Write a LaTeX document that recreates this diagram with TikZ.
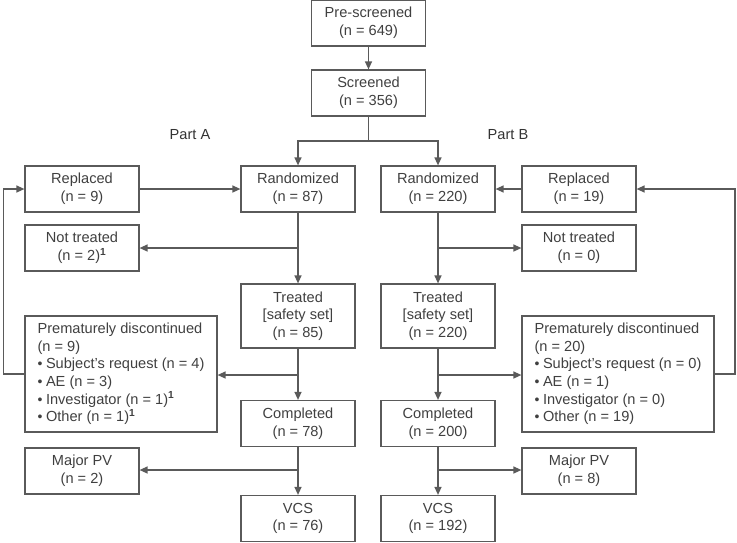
\documentclass[tikz,border=0pt]{standalone}
\usepackage{fontspec}
\setmainfont{Liberation Sans}
\usetikzlibrary{arrows.meta}
\definecolor{ln}{HTML}{5A5A5A}
\definecolor{tx}{HTML}{404040}
\begin{document}
\begin{tikzpicture}[x=1pt,y=1pt,
  box/.style={draw=ln,line width=1.2pt,fill=white,text=tx,minimum width=114pt,minimum height=46pt,
    align=center,inner sep=0pt,font=\fontsize{14.6}{17.6}\selectfont},
  wide/.style={box,minimum width=192pt,minimum height=116pt,align=left},
  conn/.style={draw=ln,line width=1.3pt},
  arr/.style={conn,-{Triangle[length=8pt,width=7pt]}},
  lbl/.style={text=tx!80!black,font=\fontsize{14.6}{17.6}\selectfont}]
\useasboundingbox (0,0) rectangle (737,-542);
\newcommand{\supone}{\textsuperscript{\textbf{1}}}
\newcommand{\bul}{{\fontsize{14}{14}\selectfont\raisebox{0pt}{•}}\hspace{3.5pt}}
\node[box] (pre) at (368.5,-23) {Pre-screened\\(n = 649)};
\node[box] (scr) at (368.5,-93) {Screened\\(n = 356)};
\node[lbl] (pa) at (190,-135) {Part A};
\node[lbl] (pb) at (508,-135) {Part B};
\node[box] (randA) at (298,-189) {Randomized\\(n = 87)};
\node[box] (randB) at (438,-189) {Randomized\\(n = 220)};
\node[box] (repA) at (82,-189) {Replaced\\(n = 9)};
\node[box] (repB) at (579,-189) {Replaced\\(n = 19)};
\node[box] (ntA) at (82,-248) {Not treated\\(n = 2)\supone};
\node[box] (ntB) at (579,-248) {Not treated\\(n = 0)};
\node[box,minimum height=64pt] (trA) at (298,-316) {Treated\\{[safety set]}\\(n = 85)};
\node[box,minimum height=64pt] (trB) at (438,-316) {Treated\\{[safety set]}\\(n = 220)};
\node[wide] (dcA) at (121,-374) {Prematurely discontinued\\(n = 9)\\\bul Subject’s request (n = 4)\\\bul AE (n = 3)\\\bul Investigator (n = 1)\supone\\\bul Other (n = 1)\supone};
\node[wide] (dcB) at (618,-374) {Prematurely discontinued\\(n = 20)\\\bul Subject’s request (n = 0)\\\bul AE (n = 1)\\\bul Investigator (n = 0)\\\bul Other (n = 19)};
\node[box] (coA) at (298,-423.5) {Completed\\(n = 78)};
\node[box] (coB) at (438,-423.5) {Completed\\(n = 200)};
\node[box] (pvA) at (82,-471) {Major PV\\(n = 2)};
\node[box] (pvB) at (579,-471) {Major PV\\(n = 8)};
\node[box] (vcsA) at (298,-518.5) {VCS\\(n = 76)};
\node[box] (vcsB) at (438,-518.5) {VCS\\(n = 192)};
% connectors
\draw[arr] (pre) -- (scr);
\coordinate (br) at (368.5,-141);
\draw[conn] (scr) -- (br);
\draw[arr] (br) -| (randA);
\draw[arr] (br) -| (randB);
\draw[arr] (repA) -- (randA);
\draw[arr] (repB) -- (randB);
\draw[arr] (randA) -- (trA);
\draw[arr] (randB) -- (trB);
\coordinate (jA) at (298,-248);
\coordinate (jB) at (438,-248);
\draw[arr] (jA) -- (ntA);
\draw[arr] (jB) -- (ntB);
\draw[arr] (trA) -- (coA);
\draw[arr] (trB) -- (coB);
\coordinate (kA) at (298,-375);
\coordinate (kB) at (438,-375);
\draw[arr] (kA) -- (dcA.east |- kA);
\draw[arr] (kB) -- (dcB.west |- kB);
\draw[arr] (coA) -- (vcsA);
\draw[arr] (coB) -- (vcsB);
\coordinate (mA) at (298,-470);
\coordinate (mB) at (438,-470);
\draw[arr] (mA) -- (pvA.east |- mA);
\draw[arr] (mB) -- (pvB.west |- mB);
\coordinate (fA) at (3.5,-189);
\coordinate (fB) at (735,-189);
\draw[arr] (dcA.west) -| (fA) -- (repA);
\draw[arr] (dcB.east) -| (fB) -- (repB);
\end{tikzpicture}
\end{document}
